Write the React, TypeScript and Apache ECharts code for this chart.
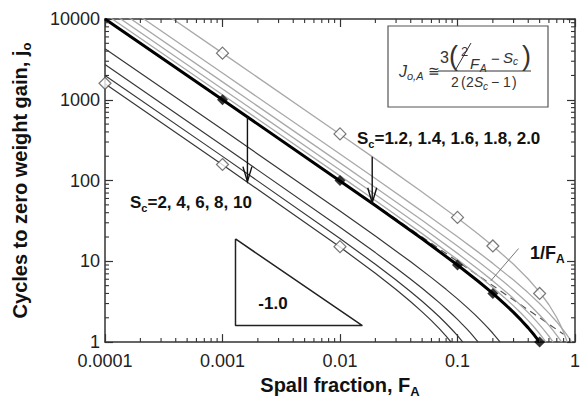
import React, { useEffect, useRef } from "react";
import * as echarts from "echarts";

const FONT = "'Liberation Sans', Arial, Helvetica, sans-serif";

const xTickValues = [0.0001, 0.001, 0.01, 0.1, 1];
const xTickLabels = ["0.0001", "0.001", "0.01", "0.1", "1"];
const yTickValues = [1, 10, 100, 1000, 10000];
const yTickLabels = ["1", "10", "100", "1000", "10000"];
const minorSteps = [2, 3, 4, 5, 6, 7, 8, 9];

// light grey family (top curve with open diamonds, then Sc = 1.2 ... 1.8)
const curveTop = [[0.0001, 37797], [0.001, 3776.6], [0.01, 374.6], [0.02, 185.6], [0.05, 72.2], [0.1, 34.4], [0.15, 21.8], [0.2, 15.5], [0.3, 9.2], [0.4, 6.05], [0.5, 4.16], [0.6, 2.9], [0.7, 2.0], [0.75, 1.64], [0.8, 1.325], [0.84, 1.1], [0.859, 1.0]];
const curveSc12 = [[0.0001, 21427], [0.001, 2141.6], [0.01, 213.0], [0.02, 105.86], [0.05, 41.57], [0.1, 20.14], [0.15, 13.0], [0.2, 9.43], [0.3, 5.857], [0.4, 4.071], [0.5, 3.0], [0.6, 2.286], [0.7, 1.776], [0.8, 1.393], [0.85, 1.235], [0.9, 1.095], [0.9375, 1.0]];
const curveSc14 = [[0.0001, 16665.5], [0.001, 1665.5], [0.01, 165.5], [0.02, 82.17], [0.05, 32.17], [0.1, 15.5], [0.15, 9.944], [0.2, 7.167], [0.25, 5.5], [0.3, 4.389], [0.35, 3.595], [0.4, 3.0], [0.45, 2.537], [0.5, 2.167], [0.55, 1.864], [0.6, 1.611], [0.65, 1.397], [0.7, 1.214], [0.74, 1.086], [0.769, 1.0]];
const curveSc16 = [[0.0001, 13635], [0.001, 1362.5], [0.01, 135.27], [0.02, 67.09], [0.05, 26.18], [0.1, 12.545], [0.15, 8.0], [0.2, 5.727], [0.25, 4.364], [0.3, 3.455], [0.35, 2.805], [0.4, 2.318], [0.45, 1.939], [0.5, 1.636], [0.55, 1.388], [0.6, 1.182], [0.652, 1.0]];
const curveSc18 = [[0.0001, 11537], [0.001, 1152.8], [0.01, 114.35], [0.02, 56.65], [0.05, 22.04], [0.1, 10.5], [0.15, 6.654], [0.2, 4.731], [0.25, 3.577], [0.3, 2.808], [0.35, 2.258], [0.4, 1.846], [0.45, 1.526], [0.5, 1.269], [0.54, 1.098], [0.566, 1.0]];
// thick black Sc = 2
const curveSc2 = [[0.0001, 9999], [0.001, 999], [0.01, 99], [0.02, 49], [0.05, 19], [0.1, 9], [0.15, 5.667], [0.2, 4], [0.25, 3], [0.3, 2.333], [0.35, 1.857], [0.4, 1.5], [0.45, 1.222], [0.5, 1]];
// dark family Sc = 4, 6, 8, 10
const curveSc4 = [[0.0001, 4284.9], [0.001, 427.7], [0.01, 42.0], [0.02, 20.57], [0.04, 9.857], [0.06, 6.286], [0.08, 4.5], [0.1, 3.429], [0.12, 2.714], [0.14, 2.204], [0.16, 1.821], [0.18, 1.524], [0.2, 1.286], [0.22, 1.091], [0.2308, 1.0]];
const curveSc6 = [[0.0001, 2726.5], [0.001, 271.9], [0.01, 26.45], [0.02, 12.82], [0.03, 8.273], [0.04, 6.0], [0.05, 4.636], [0.06, 3.727], [0.07, 3.078], [0.08, 2.591], [0.09, 2.212], [0.1, 1.909], [0.11, 1.661], [0.12, 1.455], [0.13, 1.28], [0.14, 1.13], [0.15, 1.0]];
const curveSc8 = [[0.0001, 1999.2], [0.001, 199.2], [0.01, 19.2], [0.02, 9.2], [0.03, 5.867], [0.04, 4.2], [0.05, 3.2], [0.06, 2.533], [0.07, 2.057], [0.08, 1.7], [0.09, 1.422], [0.1, 1.2], [0.111, 1.0]];
const curveSc10 = [[0.0001, 1578.2], [0.001, 157.1], [0.01, 15.0], [0.02, 7.105], [0.03, 4.474], [0.04, 3.158], [0.05, 2.368], [0.06, 1.842], [0.07, 1.466], [0.08, 1.184], [0.0882, 1.0]];
// dashed 1/F reference
const curveInvF = [[0.0001, 10000], [0.8, 1.25]];

// markers
const openDiamondsTop = [[0.001, 3780], [0.01, 378], [0.1, 35], [0.2, 15.5], [0.5, 4.0]];
const openDiamondsLow = [[0.0001, 1600], [0.001, 158], [0.01, 15.2]];
const filledDiamonds = [[0.001, 1000], [0.01, 100], [0.1, 9], [0.2, 4], [0.5, 1]];

// slope triangle and leader line
const slopeTriangle = [[0.00129, 18.9], [0.00129, 1.6], [0.0155, 1.6], [0.00129, 18.9]];
const leaderLine = [[0.331, 14.4], [0.192, 5.74]];

// arrows (from, to)
const arrowLow = [[0.00163, 612], [0.00163, 97]];
const arrowHigh = [[0.0188, 197], [0.0188, 53]];

const lineSeries = (data: number[][], color: string, width: number, z: number, type: any = "solid") => ({
  type: "line",
  data,
  symbol: "none",
  showSymbol: false,
  clip: true,
  silent: true,
  z,
  lineStyle: { color, width, type },
});

const tickFmt = (labels: string[], offset: number) => (v: number) => {
  const i = Math.round(Math.log10(v)) + offset;
  return labels[i] ?? "";
};

export default function App() {
  const ref = useRef<HTMLDivElement>(null);
  useEffect(() => {
    if (!ref.current) return;
    const chart = echarts.init(ref.current, undefined, { renderer: "svg" });
    const axisLine = { show: true, onZero: false, lineStyle: { color: "#333", width: 1.5 } };
    const axisTick = { show: true, inside: true, length: 8, lineStyle: { color: "#333", width: 1.2 } };
    const labelStyle = { fontSize: 18, fontFamily: FONT, color: "#222", lineHeight: 16 };
    const nameRich = {
      b: { fontSize: 20, fontWeight: "bold", fontFamily: FONT, color: "#111", lineHeight: 26 },
      s: { fontSize: 13, fontWeight: "bold", fontFamily: FONT, color: "#111", lineHeight: 14, verticalAlign: "bottom" },
    };
    const option: any = {
      animation: false,
      backgroundColor: "#fff",
      grid: { left: 105, top: 19, width: 475, height: 331, containLabel: false },
      xAxis: [
        {
          type: "log", logBase: 10, min: xTickValues[0], max: xTickValues[4], position: "bottom",
          axisLine, axisTick, splitLine: { show: false },
          axisLabel: { ...labelStyle, margin: 11, showMinLabel: true, showMaxLabel: true, formatter: tickFmt(xTickLabels, 4) },
          name: "{b|Spall fraction, F}{s|A}", nameLocation: "middle", nameGap: 29,
          nameTextStyle: { rich: nameRich },
        },
        {
          type: "log", logBase: 10, min: xTickValues[0], max: xTickValues[4], position: "top",
          axisLine, axisTick, splitLine: { show: false }, axisLabel: { show: false },
        },
      ],
      yAxis: [
        {
          type: "log", logBase: 10, min: yTickValues[0], max: yTickValues[4], position: "left",
          axisLine, axisTick, splitLine: { show: false },
          axisLabel: { ...labelStyle, margin: 5, showMinLabel: true, showMaxLabel: true, formatter: tickFmt(yTickLabels, 0) },
          name: "{b|Cycles to zero weight gain, j}{s|o}", nameLocation: "middle", nameGap: 72, nameRotate: 90,
          nameTextStyle: { rich: nameRich },
        },
        {
          type: "log", logBase: 10, min: yTickValues[0], max: yTickValues[4], position: "right",
          axisLine, axisTick, splitLine: { show: false }, axisLabel: { show: false },
        },
      ],
      series: [
        lineSeries(curveInvF, "#555", 1.2, 2, [7, 5]),
        lineSeries(curveTop, "#a9a9a9", 1.3, 3),
        lineSeries(curveSc12, "#a9a9a9", 1.3, 3),
        lineSeries(curveSc14, "#a9a9a9", 1.3, 3),
        lineSeries(curveSc16, "#a9a9a9", 1.3, 3),
        lineSeries(curveSc18, "#a9a9a9", 1.3, 3),
        lineSeries(curveSc4, "#383838", 1.2, 4),
        lineSeries(curveSc6, "#383838", 1.2, 4),
        lineSeries(curveSc8, "#383838", 1.2, 4),
        lineSeries(curveSc10, "#383838", 1.2, 4),
        lineSeries(curveSc2, "#000", 3, 5),
        lineSeries(slopeTriangle, "#222", 1.5, 4),
        lineSeries(leaderLine, "#777", 1, 4),
        {
          type: "scatter", data: openDiamondsTop, symbol: "diamond", symbolSize: 12, clip: false, z: 6, silent: true,
          itemStyle: { color: "#fff", borderColor: "#555", borderWidth: 1.2 },
        },
        {
          type: "scatter", data: openDiamondsLow, symbol: "diamond", symbolSize: 12, clip: false, z: 6, silent: true,
          itemStyle: { color: "#fff", borderColor: "#555", borderWidth: 1.2 },
        },
        {
          type: "scatter", data: filledDiamonds, symbol: "diamond", symbolSize: 11, clip: false, z: 6, silent: true,
          itemStyle: { color: "#000" },
        },
      ],
    };
    chart.setOption(option);

    const P = (p: number[]) => chart.convertToPixel({ xAxisIndex: 0, yAxisIndex: 0 }, p) as number[];
    const [L, T] = P([xTickValues[0], yTickValues[4]]);
    const [R, B] = P([xTickValues[4], yTickValues[0]]);
    const g: any[] = [];
    const ln = (x1: number, y1: number, x2: number, y2: number, stroke = "#333", w = 1, z = 20) =>
      g.push({ type: "line", silent: true, z, shape: { x1, y1, x2, y2 }, style: { stroke, lineWidth: w } });

    // minor ticks
    for (let k = 0; k < xTickValues.length - 1; k++) {
      for (const m of minorSteps) {
        const x = chart.convertToPixel({ xAxisIndex: 0 }, m * xTickValues[k]) as number;
        ln(x, B, x, B - 4, "#333", 1.1);
        ln(x, T, x, T + 4, "#333", 1.1);
      }
    }
    for (let k = 0; k < yTickValues.length - 1; k++) {
      for (const m of minorSteps) {
        const y = chart.convertToPixel({ yAxisIndex: 0 }, m * yTickValues[k]) as number;
        ln(L, y, L + 4, y, "#333", 1.1);
        ln(R, y, R - 4, y, "#333", 1.1);
      }
    }

    // arrows
    for (const a of [arrowLow, arrowHigh]) {
      const p1 = P(a[0]);
      const p2 = P(a[1]);
      ln(p1[0], p1[1], p2[0], p2[1], "#111", 1.4);
      g.push({
        type: "polyline", silent: true, z: 20,
        shape: { points: [[p2[0] - 4.5, p2[1] - 15], [p2[0], p2[1]], [p2[0] + 4.5, p2[1] - 15]] },
        style: { stroke: "#111", lineWidth: 1.4, fill: null },
      });
    }

    const bold = (fs: number) => ({ fontSize: fs, fontWeight: "bold", fontFamily: FONT, fill: "#111", lineHeight: Math.round(fs * 1.3) });
    const sub = (fs: number) => ({ fontSize: fs, fontWeight: "bold", fontFamily: FONT, fill: "#111", lineHeight: fs + 1, verticalAlign: "bottom" });
    g.push({
      type: "text", x: 357, y: 138, z: 30, silent: true,
      style: { text: "{b|S}{s|c}{b|=1.2, 1.4, 1.6, 1.8, 2.0}", rich: { b: bold(17), s: sub(11) }, align: "left", verticalAlign: "middle" },
    });
    g.push({
      type: "text", x: 130, y: 202, z: 30, silent: true,
      style: { text: "{b|S}{s|c}{b|=2, 4, 6, 8, 10}", rich: { b: bold(17), s: sub(11) }, align: "left", verticalAlign: "middle" },
    });
    g.push({
      type: "text", x: 273, y: 303, z: 30, silent: true,
      style: { text: "-1.0", fontSize: 17, fontWeight: "bold", fontFamily: FONT, fill: "#111", align: "center", verticalAlign: "middle" },
    });
    g.push({
      type: "text", x: 530, y: 253, z: 30, silent: true,
      style: { text: "{b|1/F}{s|A}", rich: { b: bold(18), s: sub(12) }, align: "left", verticalAlign: "middle" },
    });

    // formula box
    g.push({ type: "rect", z: 25, silent: true, shape: { x: 388, y: 26, width: 160, height: 81 }, style: { fill: "#fff", stroke: "#555", lineWidth: 1.2 } });
    const t = (text: string, x: number, y: number, fs: number, italic = false) =>
      g.push({
        type: "text", x, y, z: 30, silent: true,
        style: { text, fontSize: fs, fontFamily: FONT, fontStyle: italic ? "italic" : "normal", fill: "#333", align: "left", verticalAlign: "middle" },
      });
    t("J", 399, 71, 16, true);
    t("o,A", 407, 76, 11, true);
    t("≅", 428, 71, 14);
    t("3", 440, 57, 16);
    t("(", 449, 56, 27);
    t("2", 461, 51, 13);
    ln(456, 69, 471, 43, "#333", 1, 30);
    t("F", 470, 63, 15, true);
    t("A", 480, 68, 10, true);
    t("−", 491, 58, 15);
    t("S", 503, 57, 15, true);
    t("c", 513, 61, 10, true);
    t(")", 522, 56, 27);
    ln(438, 71, 531, 71, "#333", 1, 30);
    t("2", 451, 82, 14);
    t("(", 461, 82, 14);
    t("2", 466, 82, 14);
    t("S", 474, 82, 14, true);
    t("c", 483, 86, 10, true);
    t("−", 491, 82, 14);
    t("1", 503, 82, 14);
    t(")", 512, 82, 14);

    chart.setOption({ graphic: g });
    return () => chart.dispose();
  }, []);
  return <div ref={ref} style={{ position: "absolute", left: 0, top: 0, width: 583, height: 403, background: "#fff" }} />;
}
